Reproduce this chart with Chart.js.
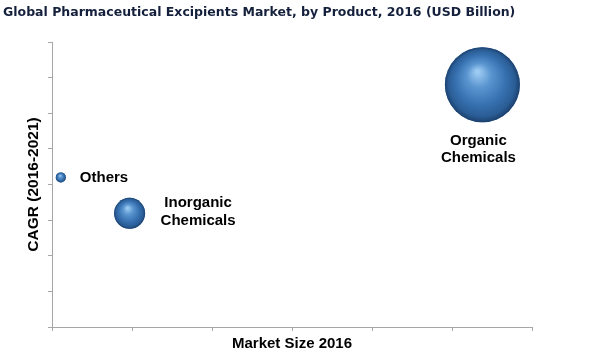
<!DOCTYPE html>
<html>
<head>
<meta charset="utf-8">
<script src="https://cdn.jsdelivr.net/npm/chart.js"></script>
<style>
  html, body { margin: 0; padding: 0; background: #fff; }
  #wrap { width: 600px; height: 359px; }
</style>
</head>
<body>
<div id="wrap"><canvas id="chart-bolhas"></canvas></div>
<script>
// Data
const categories = ['Organic Chemicals', 'Inorganic Chemicals', 'Others'];
const marketSize = [5.38, 0.97, 0.11];
const cagr = [6.8, 3.19, 4.2];
const bubbleRadius = [37.5, 15.5, 5];
const xTicks = [0, 1, 2, 3, 4, 5, 6];
const yTicks = [0, 1, 2, 3, 4, 5, 6, 7, 8];

const AXIS_COLOR = '#a6a6a6';
const LABEL_FONT = 'bold 15px "Liberation Sans", Arial, sans-serif';

// 3D sphere shading over each bubble
const spherePlugin = {
  id: 'sphere',
  afterDatasetsDraw(chart) {
    const ctx = chart.ctx;
    const meta = chart.getDatasetMeta(0);
    ctx.save();
    meta.data.forEach((el) => {
      const r = el.options.radius;
      const g = ctx.createRadialGradient(el.x - 0.13 * r, el.y - 0.35 * r, r * 0.04, el.x, el.y, r);
      g.addColorStop(0, '#9ccbf2');
      g.addColorStop(0.3, '#5a95d0');
      g.addColorStop(0.65, '#3771b0');
      g.addColorStop(0.88, '#2a5d96');
      g.addColorStop(1, '#1c406c');
      ctx.beginPath();
      ctx.arc(el.x, el.y, r, 0, Math.PI * 2);
      ctx.fillStyle = g;
      ctx.fill();
    });
    ctx.restore();
  }
};

// Category labels next to bubbles
const labelPlugin = {
  id: 'bubbleLabels',
  afterDatasetsDraw(chart) {
    const ctx = chart.ctx;
    const meta = chart.getDatasetMeta(0);
    ctx.save();
    ctx.font = LABEL_FONT;
    ctx.fillStyle = '#000';
    ctx.textBaseline = 'middle';
    meta.data.forEach((el, i) => {
      const words = categories[i].split(' ');
      const r = el.options.radius;
      if (i === 0) {
        ctx.textAlign = 'center';
        ctx.fillText(words[0], el.x - 4, el.y + r + 19);
        ctx.fillText(words[1], el.x - 4, el.y + r + 36);
      } else if (i === 1) {
        ctx.textAlign = 'center';
        ctx.fillText(words[0], el.x + r + 53, el.y - 10);
        ctx.fillText(words[1], el.x + r + 53, el.y + 8);
      } else {
        ctx.textAlign = 'left';
        ctx.fillText(categories[i], el.x + r + 14, el.y);
      }
    });
    ctx.restore();
  }
};

const ctx = document.getElementById('chart-bolhas');

new Chart(ctx, {
  type: 'bubble',
  data: {
    datasets: [{
      label: 'Market',
      data: categories.map((c, i) => ({ x: marketSize[i], y: cagr[i], r: bubbleRadius[i] })),
      backgroundColor: '#3771b0',
      borderWidth: 0,
      hoverRadius: 0
    }]
  },
  options: {
    responsive: true,
    maintainAspectRatio: false,
    animation: false,
    events: [],
    layout: {
      autoPadding: false,
      padding: { left: 3, right: 68, top: 0, bottom: 0 }
    },
    plugins: {
      legend: { display: false },
      tooltip: { enabled: false },
      title: {
        display: true,
        text: 'Global Pharmaceutical Excipients Market, by Product, 2016 (USD Billion)',
        align: 'start',
        color: '#14203c',
        font: { family: 'Verdana, "DejaVu Sans", sans-serif', size: 12.5, weight: 'bold', lineHeight: 1.2 },
        padding: { top: 5, bottom: 22 }
      }
    },
    scales: {
      x: {
        type: 'linear',
        min: xTicks[0],
        max: xTicks[xTicks.length - 1],
        afterBuildTicks: (scale) => { scale.ticks = xTicks.map(v => ({ value: v })); },
        ticks: { display: false },
        grid: { drawOnChartArea: false, drawTicks: true, tickLength: 4, color: AXIS_COLOR },
        border: { display: true, color: AXIS_COLOR },
        title: {
          display: true,
          text: 'Market Size 2016',
          color: '#000',
          font: { family: '"Liberation Sans", Arial, sans-serif', size: 15, weight: 'bold', lineHeight: 1.2 },
          padding: { top: 0, bottom: 6 }
        },
        afterFit: (scale) => { scale.height = 32; }
      },
      y: {
        type: 'linear',
        min: yTicks[0],
        max: yTicks[yTicks.length - 1],
        afterBuildTicks: (scale) => { scale.ticks = yTicks.map(v => ({ value: v })); },
        ticks: { display: false },
        grid: { drawOnChartArea: false, drawTicks: true, tickLength: 4, color: AXIS_COLOR },
        border: { display: true, color: AXIS_COLOR },
        title: {
          display: true,
          text: 'CAGR (2016-2021)',
          color: '#000',
          font: { family: '"Liberation Sans", Arial, sans-serif', size: 15.5, weight: 'bold', lineHeight: 1.2 },
          padding: { top: 21, bottom: 0 }
        },
        afterFit: (scale) => { scale.width = 49; }
      }
    }
  },
  plugins: [spherePlugin, labelPlugin]
});
</script>
</body>
</html>
